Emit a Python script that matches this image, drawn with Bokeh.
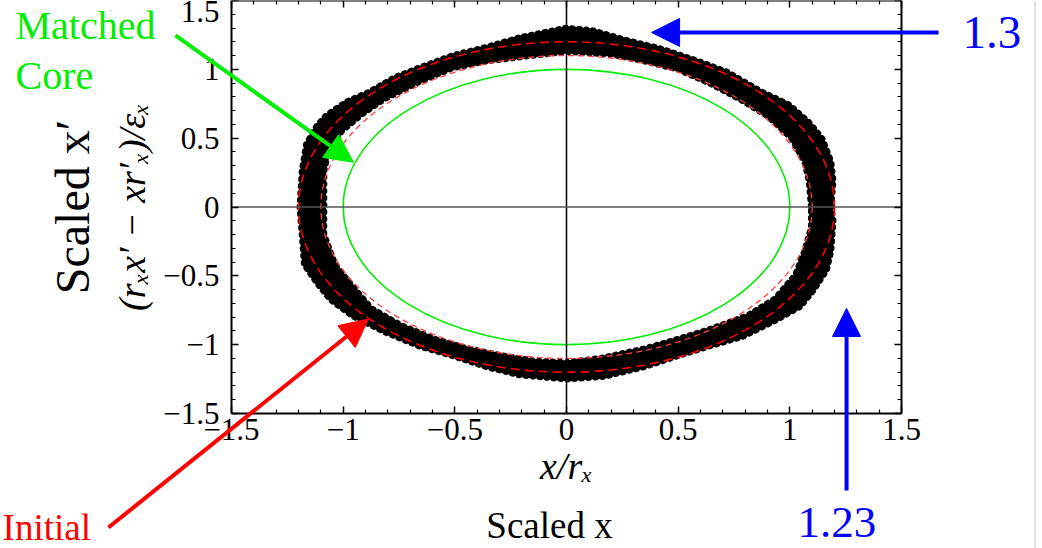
import math
from bokeh.plotting import figure
from bokeh.models import (LinearAxis, FixedTicker, CustomJSTickFormatter, Arrow,
                          NormalHead, Label, Range1d)
from bokeh.embed import file_html
from bokeh.resources import INLINE

# ---------------- data ----------------
major_ticks = [-1.5, -1.0, -0.5, 0.0, 0.5, 1.0, 1.5]
minor_ticks = [-1.4, -1.3, -1.2, -1.1, -0.9, -0.8, -0.7, -0.6, -0.4, -0.3, -0.2, -0.1,
               0.1, 0.2, 0.3, 0.4, 0.6, 0.7, 0.8, 0.9, 1.1, 1.2, 1.3, 1.4]

matched_core_radius = [1.0]
initial_radius_inner = [1.1]
initial_radius_outer = [1.2]

# outer edge of the particle band (counter-clockwise from +x axis)
band_outer_x = [1.19, 1.20, 1.19, 1.15, 1.09, 1.00, 0.87, 0.72, 0.57, 0.42, 0.27, 0.12, 0.00,
                -0.21, -0.36, -0.51, -0.66, -0.77, -0.89, -0.99, -1.08, -1.12, -1.17, -1.19, -1.20,
                -1.19, -1.18, -1.12, -1.06, -0.96, -0.81, -0.66, -0.51, -0.36, -0.21, 0.00,
                0.17, 0.35, 0.50, 0.64, 0.79, 0.94, 1.05, 1.11, 1.17, 1.19, 1.20]
band_outer_y = [0.00, 0.19, 0.33, 0.50, 0.62, 0.75, 0.85, 0.99, 1.08, 1.16, 1.22, 1.29, 1.31,
                1.24, 1.17, 1.11, 1.02, 0.95, 0.84, 0.77, 0.67, 0.60, 0.46, 0.26, 0.00,
                -0.20, -0.42, -0.56, -0.68, -0.80, -0.92, -1.02, -1.09, -1.17, -1.23, -1.26,
                -1.24, -1.17, -1.09, -1.02, -0.95, -0.83, -0.73, -0.61, -0.46, -0.32, -0.10]
# inner edge of the particle band (counter-clockwise from +x axis)
band_inner_x = [1.09, 1.08, 1.06, 1.00, 0.90, 0.78, 0.64, 0.50, 0.35, 0.20, 0.00,
                -0.21, -0.36, -0.51, -0.66, -0.81, -0.91, -1.00, -1.06, -1.08, -1.08,
                -1.08, -1.03, -0.96, -0.87, -0.74, -0.59, -0.44, -0.29, -0.14, 0.00,
                0.15, 0.35, 0.50, 0.64, 0.81, 0.93, 1.02, 1.06, 1.09]
band_inner_y = [0.00, 0.19, 0.33, 0.50, 0.65, 0.77, 0.89, 0.99, 1.05, 1.10, 1.12,
                1.08, 1.05, 1.00, 0.90, 0.78, 0.67, 0.55, 0.41, 0.26, 0.00,
                -0.20, -0.42, -0.56, -0.73, -0.85, -0.95, -1.02, -1.07, -1.11, -1.12,
                -1.09, -1.02, -0.95, -0.88, -0.78, -0.66, -0.49, -0.32, -0.15]

# ---------------- layout ----------------
FONT = "Liberation Serif"
GREEN = "#00ee00"
RED = "#ff0000"
BLUE = "#0000ff"

W, H = 1042, 548
PX_X = 670 / 3.0           # pixels per unit along x
PX_Y = 413 / 3.0           # pixels per unit along y
FRAME_LEFT = 231           # canvas px of x = -1.5
FRAME_BOTTOM = 413         # canvas px of y = -1.5
x0 = -1.5 - FRAME_LEFT / PX_X
x1 = x0 + W / PX_X
y0 = -1.5 - (H - FRAME_BOTTOM) / PX_Y
y1 = y0 + H / PX_Y

p = figure(width=W, height=H,
           x_range=Range1d(x0, x1), y_range=Range1d(y0, y1),
           x_axis_type=None, y_axis_type=None,
           output_backend="svg", toolbar_location=None,
           min_border=0)
p.background_fill_color = "white"
p.border_fill_color = "white"
p.outline_line_color = None

lo, hi = major_ticks[0], major_ticks[-1]


def make_axis(with_labels, label=None, size="31px"):
    ax = LinearAxis(ticker=FixedTicker(ticks=major_ticks, minor_ticks=minor_ticks),
                    bounds=(lo, hi), fixed_location=lo if with_labels else hi)
    ax.axis_line_width = 2
    ax.axis_line_color = "black"
    ax.major_tick_in = 7
    ax.major_tick_out = 0
    ax.minor_tick_in = 4
    ax.minor_tick_out = 0
    ax.major_tick_line_width = 1.5
    ax.minor_tick_line_width = 1.2
    if with_labels:
        ax.formatter = CustomJSTickFormatter(
            code="return (tick < 0 ? '\u2212' : '') + Math.abs(tick);")
        ax.major_label_text_font = FONT
        ax.major_label_text_font_size = "31px"
        ax.major_label_text_color = "black"
    else:
        ax.formatter = CustomJSTickFormatter(code="return '';")
        ax.major_label_text_font_size = "0px"
        ax.major_label_standoff = 0
    if label is not None:
        ax.axis_label = label
        ax.axis_label_text_font = FONT
        ax.axis_label_text_font_style = "italic"
        ax.axis_label_text_font_size = size
        ax.axis_label_text_color = "black"
    return ax


xax = make_axis(True, "x/r\u2093", "38px")
xax.major_label_standoff = 5
xax.axis_label_standoff = 2
yax = make_axis(True, "(r\u2093x\u2032 \u2212 xr\u2032\u2093)/\u03b5\u2093", "38px")
yax.major_label_standoff = 12
yax.axis_label_standoff = 7
p.add_layout(xax, "below")
p.add_layout(yax, "left")
p.add_layout(make_axis(False), "above")
p.add_layout(make_axis(False), "right")

# particle band (outer edge with the inner edge as a hole)
p.multi_polygons(xs=[[[band_outer_x, band_inner_x[::-1]]]],
                 ys=[[[band_outer_y, band_inner_y[::-1]]]],
                 fill_color="black", line_color="black", line_width=1.5)
# speckled fringe along both edges of the band
p.multi_line(xs=[band_outer_x + band_outer_x[:1], band_inner_x + band_inner_x[:1]],
             ys=[band_outer_y + band_outer_y[:1], band_inner_y + band_inner_y[:1]],
             line_color="black", line_width=4, line_dash="2 5", line_cap="round")

# matched core ellipse
p.ellipse(x=[0], y=[0], width=[2 * r for r in matched_core_radius],
          height=[2 * r for r in matched_core_radius],
          fill_color=None, line_color=GREEN, line_width=1.6)
# initial distribution ellipses
p.ellipse(x=[0], y=[0], width=[2 * r for r in initial_radius_inner],
          height=[2 * r for r in initial_radius_inner],
          fill_color=None, line_color="#ff4040", line_width=1.3, line_dash="6 4")
p.ellipse(x=[0], y=[0], width=[2 * r for r in initial_radius_outer],
          height=[2 * r for r in initial_radius_outer],
          fill_color=None, line_color=RED, line_width=1.6, line_dash="9 5")

# centre lines inside the box
p.segment(x0=[0], y0=[lo], x1=[0], y1=[hi], line_color="black", line_width=1.5)
p.segment(x0=[lo], y0=[0], x1=[hi], y1=[0], line_color="#555555", line_width=1.5)


def arrow(xa, ya, xb, yb, color):
    p.add_layout(Arrow(end=NormalHead(size=28, fill_color=color, line_color=color, line_width=1),
                       x_start=xa, y_start=ya, x_end=xb, y_end=yb,
                       line_color=color, line_width=4))


def label(x, y, text, color, size, align="left", angle=0.0):
    p.add_layout(Label(x=x, y=y, text=text, text_color=color, text_font=FONT,
                       text_font_size=size, text_align=align, text_baseline="middle",
                       angle=angle))


# annotations (positions in data units of the page layout)
label(-2.467, 1.315, "Matched", GREEN, "40px")
label(-2.467, 0.952, "Core", GREEN, "40px")
arrow(-1.751, 1.246, -0.954, 0.325, GREEN)

label(-2.525, -2.328, "Initial", RED, "37px")
arrow(-2.051, -2.328, -0.887, -0.814, RED)

label(1.773, 1.271, "1.3", BLUE, "47px")
arrow(1.666, 1.268, 0.381, 1.268, BLUE)

label(1.034, -2.292, "1.23", BLUE, "45px")
arrow(1.254, -2.060, 1.254, -0.737, BLUE)

label(-0.076, -2.313, "Scaled x", "black", "37px", align="center")
label(-2.212, 0.0, "Scaled x\u2032", "black", "48px", align="center", angle=math.pi / 2)

# light page border line at the right
p.add_layout(Arrow(start=None, end=None, x_start=2.098, y_start=y1, x_end=2.098, y_end=y0,
                   line_color="#c8c8c8", line_width=1))

open("out.html", "w").write(file_html(p, INLINE))
